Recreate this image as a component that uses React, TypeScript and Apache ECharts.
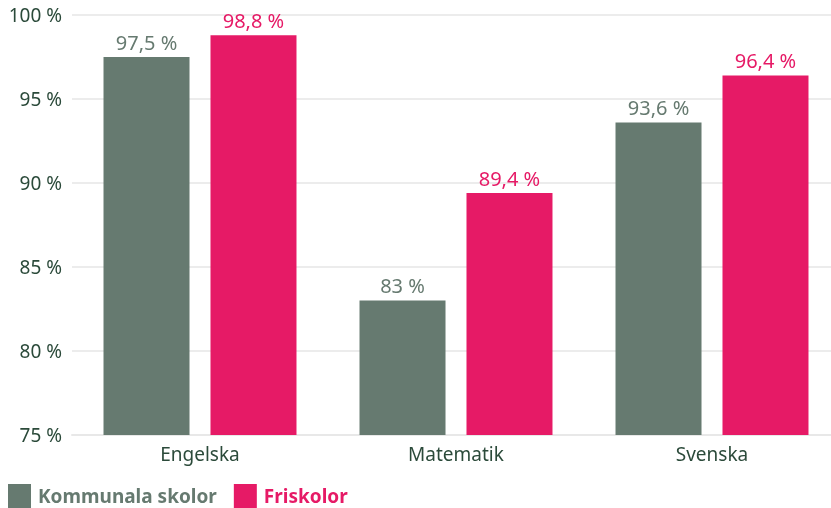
import React, { useEffect, useRef } from "react";
import * as echarts from "echarts";

const categories = ["Engelska", "Matematik", "Svenska"];
const kommunala = [97.5, 83, 93.6];
const friskolor = [98.8, 89.4, 96.4];
const seriesNames = ["Kommunala skolor", "Friskolor"];
const yTicks = { min: 75, max: 100, interval: 5 };

const GRAY = "#667a70";
const PINK = "#e61a66";
const TEXT = "#2b4a3a";
const FONT = "'Noto Sans', sans-serif";

const fmt = (v: number) => String(v).replace(".", ",") + " %";

export default function App() {
  const ref = useRef<HTMLDivElement>(null);
  useEffect(() => {
    if (!ref.current) return;
    const chart = echarts.init(ref.current, undefined, { renderer: "svg" });
    chart.setOption({
      animation: false,
      textStyle: { fontFamily: FONT },
      grid: { left: 72, top: 15, right: -9, height: 420, containLabel: false, outerBoundsMode: "none" },
      legend: {
        left: 8,
        top: 484,
        padding: 0,
        itemWidth: 23,
        itemHeight: 24,
        itemGap: 17,
        icon: "rect",
        data: [
          { name: seriesNames[0], textStyle: { color: GRAY } },
          { name: seriesNames[1], textStyle: { color: PINK } },
        ],
        textStyle: { fontSize: 19, fontWeight: "bold", fontFamily: FONT, padding: [0, 0, 0, 2] },
      },
      xAxis: {
        type: "category",
        data: categories,
        axisTick: { show: false },
        axisLine: { lineStyle: { color: "#e8e8e8", width: 2 } },
        axisLabel: { color: TEXT, fontSize: 19, margin: 9, fontFamily: FONT },
      },
      yAxis: {
        type: "value",
        min: yTicks.min,
        max: yTicks.max,
        interval: yTicks.interval,
        axisLabel: { color: TEXT, fontSize: 19, margin: 10, formatter: "{value} %", fontFamily: FONT },
        splitLine: { lineStyle: { color: "#ececec", width: 2 } },
        axisLine: { show: false },
        axisTick: { show: false },
      },
      series: [
        {
          name: seriesNames[0],
          type: "bar",
          data: kommunala,
          barWidth: 86,
          barGap: "24.4%",
          itemStyle: { color: GRAY },
          label: { show: true, position: "top", distance: 5, color: GRAY, fontSize: 20, fontFamily: FONT, formatter: (p: any) => fmt(p.value) },
        },
        {
          name: seriesNames[1],
          type: "bar",
          data: friskolor,
          barWidth: 86,
          barGap: "24.4%",
          itemStyle: { color: PINK },
          label: { show: true, position: "top", distance: 5, color: PINK, fontSize: 20, fontFamily: FONT, formatter: (p: any) => fmt(p.value) },
        },
      ],
    });
    return () => chart.dispose();
  }, []);
  return <div ref={ref} style={{ position: "fixed", left: 0, top: 0, width: 831, height: 508 }} />;
}
